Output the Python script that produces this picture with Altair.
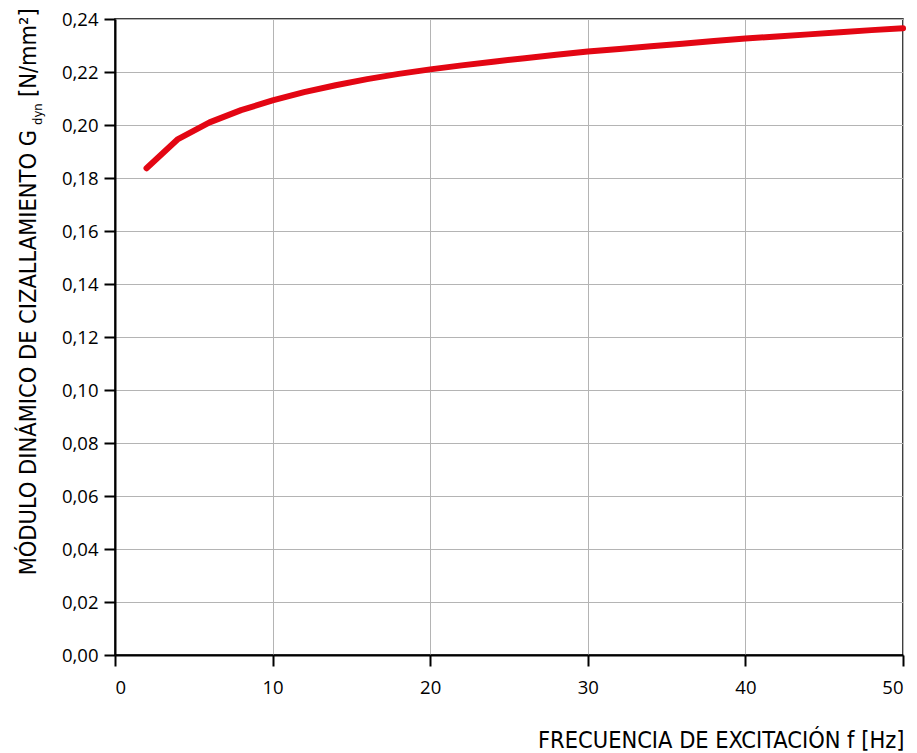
import altair as alt
import pandas as pd

# Data
freq = [2, 4, 6, 8, 10, 12, 14, 16, 18, 20, 22, 24, 26, 28, 30,
        32, 34, 36, 38, 40, 42, 44, 46, 48, 50]
gdyn = [0.1837, 0.1947, 0.2010, 0.2056, 0.2093, 0.2124, 0.2150, 0.2173,
        0.2193, 0.2210, 0.2225, 0.2239, 0.2252, 0.2265, 0.2277, 0.2287,
        0.2297, 0.2307, 0.2317, 0.2326, 0.2334, 0.2342, 0.2350, 0.2358,
        0.2365]

x_ticks = [0, 10, 20, 30, 40, 50]
y_ticks = [0.00, 0.02, 0.04, 0.06, 0.08, 0.10, 0.12, 0.14, 0.16, 0.18,
           0.20, 0.22, 0.24]

x_title = "FRECUENCIA DE EXCITACIÓN f [Hz]"
y_title_main = "MÓDULO DINÁMICO DE CIZALLAMIENTO G"
y_title_sub = "dyn"
y_title_unit = "[N/mm²]"

df = pd.DataFrame({"f": freq, "g": gdyn})

TITLE_FONT = "Liberation Sans Narrow, DejaVu Sans Condensed, Roboto, sans-serif"
LABEL_FONT = "Open Sans, Noto Sans, sans-serif"
TFS = 23.4

line = alt.Chart(df).mark_line(
    color="#e30613", strokeWidth=6, strokeCap="round", strokeJoin="round"
).encode(
    x=alt.X("f:Q",
            scale=alt.Scale(domain=[0, 50], nice=False),
            axis=alt.Axis(values=x_ticks, format="d", title=x_title,
                          titleFont=TITLE_FONT, titleFontSize=TFS,
                          titleFontWeight="normal", titleColor="#000",
                          titleAnchor="end", titleAlign="right",
                          titleX=789, titleY=92, titleBaseline="alphabetic",
                          labelFont=LABEL_FONT, labelFontSize=18.5,
                          labelColor="#000", labelPadding=12,
                          tickSize=11, tickWidth=2, tickColor="#000",
                          domainColor="#000", domainWidth=2,
                          gridColor="#b4b4b4", gridWidth=1)),
    y=alt.Y("g:Q",
            scale=alt.Scale(domain=[0, 0.24], nice=False, zero=True),
            axis=alt.Axis(values=y_ticks, format=".2f", title=None,
                          labelExpr="replace(format(datum.value, '.2f'), '.', ',')",
                          labelFont=LABEL_FONT, labelFontSize=18.5,
                          labelColor="#000", labelPadding=6,
                          tickSize=11, tickWidth=2, tickColor="#000",
                          domainColor="#000", domainWidth=2,
                          gridColor="#b4b4b4", gridWidth=1)),
)

t_main = alt.Chart(pd.DataFrame({"t": [y_title_main]})).mark_text(
    angle=270, align="right", baseline="alphabetic",
    font=TITLE_FONT, fontSize=TFS, color="#000"
).encode(x=alt.value(-79), y=alt.value(111), text="t:N")

t_sub = alt.Chart(pd.DataFrame({"t": [y_title_sub]})).mark_text(
    angle=270, align="left", baseline="alphabetic",
    font=TITLE_FONT, fontSize=13, color="#000"
).encode(x=alt.value(-73), y=alt.value(106), text="t:N")

t_unit = alt.Chart(pd.DataFrame({"t": [y_title_unit]})).mark_text(
    angle=270, align="left", baseline="alphabetic",
    font=TITLE_FONT, fontSize=TFS, color="#000"
).encode(x=alt.value(-79), y=alt.value(78), text="t:N")

chart = alt.layer(line, t_main, t_sub, t_unit).properties(
    width=788, height=636,
    autosize=alt.AutoSizeParams(type="none"),
    padding={"left": 107, "top": 11, "right": 6, "bottom": 98},
    background="white",
).configure_view(
    stroke="#000", strokeWidth=1.5
)

chart.save("out.html", embed_options={"renderer": "svg", "actions": False})
